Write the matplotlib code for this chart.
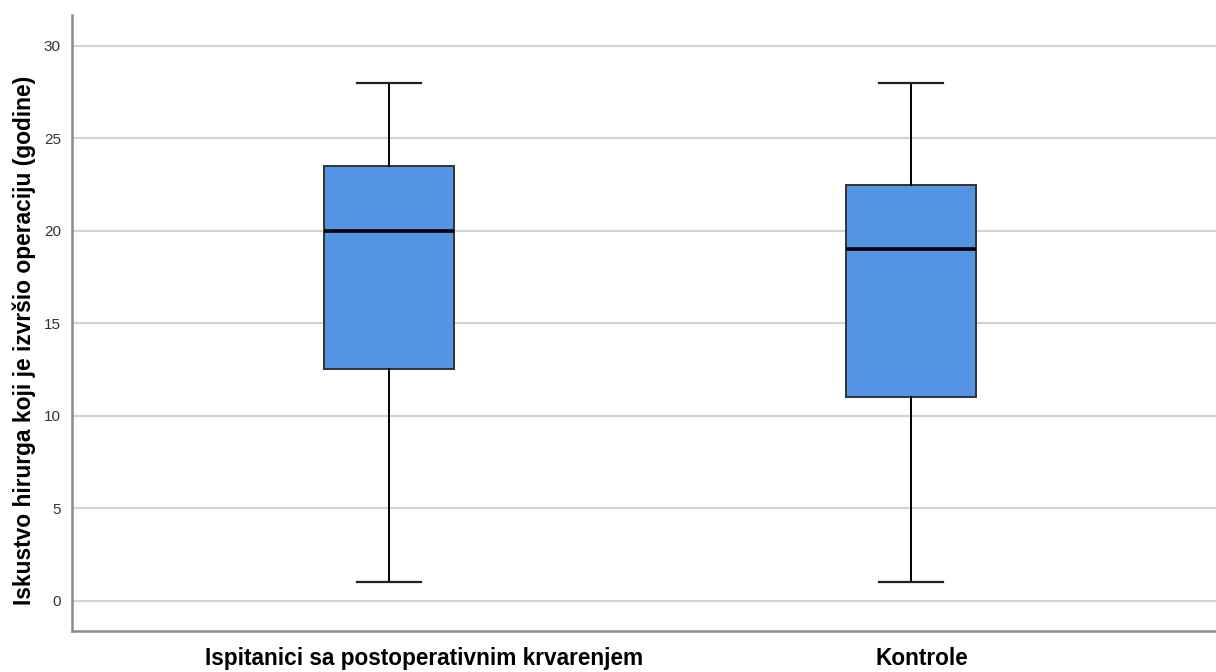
import matplotlib
matplotlib.use("Agg")
import matplotlib.pyplot as plt
from matplotlib.transforms import ScaledTranslation

categories = ["Ispitanici sa postoperativnim krvarenjem", "Kontrole"]
whislo = [1, 1]
q1 = [12.5, 11]
med = [20, 19]
q3 = [23.5, 22.5]
whishi = [28, 28]
yticks = [0, 5, 10, 15, 20, 25, 30]
ylabel = "Iskustvo hirurga koji je izvršio operaciju (godine)"

plt.rcParams['font.family'] = ['Liberation Sans', 'DejaVu Sans']

fig = plt.figure(figsize=(12.16, 6.72), dpi=100)
ax = fig.add_axes([72/1216, 41.5/672, 1 - 72/1216, (630.5-15)/672])

stats = []
for i, c in enumerate(categories):
    stats.append(dict(label=c, whislo=whislo[i], q1=q1[i], med=med[i],
                      q3=q3[i], whishi=whishi[i], fliers=[]))

ax.bxp(stats, positions=[0, 1], widths=0.25, patch_artist=True,
       showfliers=False,
       boxprops=dict(facecolor='#5494E4', edgecolor='#333333', linewidth=1.4),
       medianprops=dict(color='black', linewidth=2.6),
       whiskerprops=dict(color='black', linewidth=1.4),
       capprops=dict(color='#222222', linewidth=1.6),
       capwidths=0.122, zorder=3)

ax.set_xlim(-0.607, 1.584)
ax.set_ylim(-1.62, 31.67)
ax.set_yticks(yticks)
ax.set_yticklabels([str(t) for t in yticks], fontsize=11, color='#333333')
ax.tick_params(axis='y', length=0, pad=8)
ax.yaxis.grid(True, color='#d2d2d2', linewidth=1.6, zorder=0)
ax.set_axisbelow(True)

ax.set_xticks([0, 1])
ax.set_xticklabels(categories, fontsize=16.3, fontweight='bold', color='black')
ax.tick_params(axis='x', length=0, pad=12)
offsets = [35, 11]
for lab, off in zip(ax.get_xticklabels(), offsets):
    lab.set_transform(lab.get_transform() + ScaledTranslation(off/100, 0, fig.dpi_scale_trans))

ax.set_ylabel(ylabel, fontsize=16.4, fontweight='bold', color='black')
ax.yaxis.set_label_coords(-36/1144, 0.472)

for s in ['top', 'right']:
    ax.spines[s].set_visible(False)
for s in ['left', 'bottom']:
    ax.spines[s].set_color('#8c8c8c')
    ax.spines[s].set_linewidth(1.8)

fig.savefig("out.png", dpi=100)
